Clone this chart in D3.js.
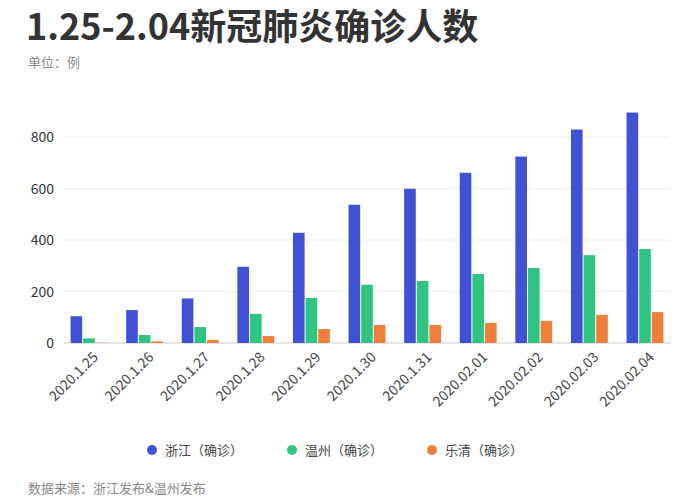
<!DOCTYPE html>
<html><head><meta charset="utf-8">
<script src="https://cdn.jsdelivr.net/npm/d3@7"></script>
<style>body{margin:0;background:#fff;font-family:"Noto Sans CJK SC","Noto Sans",sans-serif}</style>
</head><body><svg id="c" width="700" height="500"></svg>
<script>
const categories=["2020.1.25","2020.1.26","2020.1.27","2020.1.28","2020.1.29","2020.1.30","2020.1.31","2020.02.01","2020.02.02","2020.02.03","2020.02.04"];
const zhejiang=[104,128,173,296,428,537,599,661,724,829,895];
const wenzhou=[18,31,62,113,175,226,241,268,291,341,365];
const yueqing=[1,6,12,27,54,70,70,78,86,109,120];
const seriesNames=["浙江（确诊）","温州（确诊）","乐清（确诊）"];
const colors=["#3f51d4","#2fc482","#f07f3c"];
const yTicks=[0,200,400,600,800];
const svg=d3.select("#c");
svg.append("text").attr("x",26).attr("y",40).attr("font-size",36).attr("font-weight","bold").attr("fill","#333").text("1.25-2.04新冠肺炎确诊人数");
svg.append("text").attr("x",28).attr("y",67).attr("font-size",13).attr("fill","#888").text("单位：例");
const x=d3.scaleBand().domain(categories).range([64,670]).paddingInner(0.3).paddingOuter(0.1);
const y=d3.scaleLinear().domain([0,800]).range([343,137]);
svg.append("g").selectAll("line").data(yTicks).join("line").attr("x1",64).attr("x2",670).attr("y1",d=>y(d)).attr("y2",d=>y(d)).attr("stroke",(d)=>d===0?"#ccc":"#eee");
svg.append("g").selectAll("text").data(yTicks).join("text").attr("x",54).attr("y",d=>y(d)+5).attr("text-anchor","end").attr("font-size",14).attr("fill","#333").text(d=>d);
const data=[zhejiang,wenzhou,yueqing];
const xs=d3.scaleBand().domain([0,1,2]).range([0,x.bandwidth()]).padding(0.08);
data.forEach((arr,i)=>{
 svg.append("g").selectAll("rect").data(arr).join("rect")
 .attr("x",(d,j)=>x(categories[j])+xs(i)).attr("width",xs.bandwidth())
 .attr("y",d=>y(d)).attr("height",d=>343-y(d)).attr("fill",colors[i]);
});
svg.append("g").selectAll("text").data(categories).join("text")
 .attr("transform",d=>`translate(${x(d)+x.bandwidth()/2+10},${358}) rotate(-45)`)
 .attr("text-anchor","end").attr("font-size",14).attr("fill","#444").text(d=>d);
const lx=[152,292,432];
seriesNames.forEach((n,i)=>{
 svg.append("circle").attr("cx",lx[i]).attr("cy",450).attr("r",5).attr("fill",colors[i]);
 svg.append("text").attr("x",lx[i]+13).attr("y",455).attr("font-size",13).attr("fill","#444").text(n);
});
svg.append("text").attr("x",28).attr("y",493).attr("font-size",13).attr("fill","#888").text("数据来源：浙江发布&温州发布");
</script></body></html>
